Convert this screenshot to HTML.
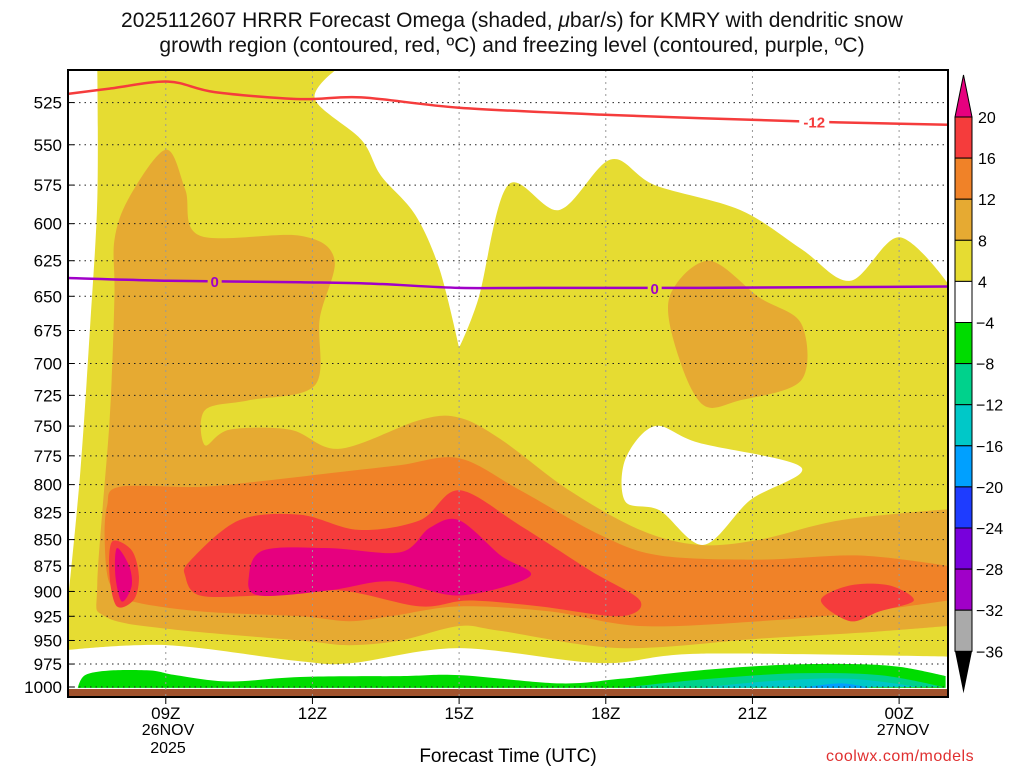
<!DOCTYPE html>
<html><head><meta charset="utf-8"><style>
body{margin:0;background:#fff;width:1024px;height:768px;overflow:hidden;font-family:"Liberation Sans",sans-serif}
svg text{font-family:"Liberation Sans",sans-serif}
</style></head><body>
<svg id="c" width="1024" height="768"></svg>
<script>
const hourTicks=[9,12,15,18,21,24];
const hourLabels=["09Z","12Z","15Z","18Z","21Z","00Z"];
const presTicks=[525,550,575,600,625,650,675,700,725,750,775,800,825,850,875,900,925,950,975,1000];
const cbLabels=["20","16","12","8","4","\u22124","\u22128","\u221212","\u221216","\u221220","\u221224","\u221228","\u221232","\u221236"];
const cbColors=["#f53c3c","#f08228","#e6aa32","#e6dc32","#ffffff","#00dc00","#00d28c","#00c8c8","#00a0ff","#1e3cff","#7800dc","#a000c8","#aaaaaa"];
const yellowShade=[[7.6,506],[12.5,506],[12.05,523],[13.0,547],[13.4,569],[14.1,594],[14.6,631],[15.0,688],[15.4,651],[16.0,575],[17.05,591],[18.1,559],[19.0,575],[20.75,591],[22.0,617],[23.0,639],[24.0,609],[25,641],[25,967],[19.9,964],[17.9,974],[15.0,958],[12.8,974],[11.75,972],[9.05,955],[7,960],[7,909],[7.25,790],[7.45,673],[7.6,584]];
const whiteHole=[[18.4,778],[19.0,750],[19.9,764],[22.0,785],[20.95,814],[20.0,855],[19.1,823],[18.4,815]];
const goldShade=[[7.95,611],[8.25,583],[9.0,553],[9.4,578],[9.7,608],[11.75,608],[12.45,624],[12.15,666],[12.05,717],[10.7,729],[9.8,737],[9.8,766],[10.3,753],[11.55,753],[12.55,769],[14.2,745],[15.0,743],[15.85,761],[17.25,805],[18.7,841],[19.9,855],[21.15,850],[22.8,832],[25,822],[25,935],[23.2,942],[21.15,948],[18.3,958],[15.85,940],[15.0,935],[13.8,950],[12.75,955],[11.75,950],[9.05,938],[7.75,925],[7.6,892],[7.85,745],[7.95,651]];
const goldBlob=[[19.3,651],[20.1,625],[21.15,651],[22.0,670],[22.0,713],[20.75,729],[20.0,733],[19.5,696]];
const orangeShade=[[7.8,819],[8.05,802],[9.7,802],[11.15,796],[12.55,789],[13.8,783],[15.0,777],[16.25,805],[17.9,846],[19.1,865],[21.15,869],[23.2,865],[25,875],[25,909],[23.2,921],[21.15,930],[18.7,935],[16.85,920],[15.0,915],[13.6,925],[12.75,930],[11.75,925],[9.7,920],[8.25,909],[7.85,892],[7.75,851]];
const redMain=[[9.5,870],[10.5,832],[11.75,827],[12.95,841],[14.2,832],[15.0,805],[16.25,837],[17.7,880],[18.7,909],[18.3,925],[16.65,915],[15.2,909],[14.2,915],[12.55,899],[10.9,904],[9.7,904],[9.4,885]];
const redLeft=[[7.9,852],[8.3,860],[8.45,885],[8.35,908],[8.0,915],[7.85,885]];
const redRight=[[22.4,909],[23.0,894],[23.8,894],[24.3,909],[23.6,920],[23.0,930]];
const magMain=[[10.7,885],[11.0,860],[12.35,858],[13.8,862],[14.4,839],[15.0,832],[15.85,865],[16.45,885],[15.0,904],[13.6,890],[12.35,899],[10.9,904]];
const magLeft=[[8.0,858],[8.25,875],[8.3,895],[8.1,910],[7.97,885]];
const greenShade=[[7.2,1001],[7.35,987],[7.85,982],[8.7,982],[9.2,987],[10.3,994],[11.75,989],[13.8,988],[15.0,987],[17.05,996],[18.3,991],[19.9,982],[21.55,976],[23.0,975],[24.0,978],[24.95,988],[24.95,1001]];
const tealShade=[[18.3,1001],[19.9,992],[21.9,985],[23.6,987],[24.9,1000]];
const cyanShade=[[19.9,1001],[21.5,993],[23.0,991],[24.4,1000]];
const blueShade=[[22.0,1001],[22.8,996],[23.4,1001]];
const dgzLine=[[7,520],[7.85,517],[9.05,513],[10.0,519],[11.75,523],[13.0,522],[15.0,528],[17.9,532],[22.0,536],[25,538]];
const frzLine=[[7,637],[9.05,639],[11.75,640],[13.2,641],[15.0,644],[16.6,644],[19.9,644],[25,643]];

const X0=68,X1=948,YB=687;
const xs=h=>X0+(h-7)*(X1-X0)/18;
const ys=p=>YB-Math.log(1000/p)*907;
const svg=document.getElementById('c');
const NS='http://www.w3.org/2000/svg';
function mk(tag,at,txt,parent){const e=document.createElementNS(NS,tag);for(const k in at)e.setAttribute(k,at[k]);if(txt!==undefined)e.textContent=txt;(parent||svg).appendChild(e);return e;}
const edge=p=>p[0]<=7||p[0]>=24.9||p[1]<=506||p[1]>=1000||(p[0]==15&&p[1]==688);
function smooth(pts,closed){const P=pts.map(p=>[xs(p[0]),ys(p[1])]);const n=P.length;
const tan=i=>{if(closed&&edge(pts[i]))return[0,0];const a=P[closed?(i-1+n)%n:Math.max(i-1,0)],b=P[closed?(i+1)%n:Math.min(i+1,n-1)];return[(b[0]-a[0])*0.16,(b[1]-a[1])*0.16];};
let d='M'+P[0][0].toFixed(1)+','+P[0][1].toFixed(1);
const last=closed?n:n-1;
for(let i=0;i<last;i++){const j=(i+1)%n,p1=P[i],p2=P[j],t1=tan(i),t2=tan(j);
d+=' C'+(p1[0]+t1[0]).toFixed(1)+','+(p1[1]+t1[1]).toFixed(1)+' '+(p2[0]-t2[0]).toFixed(1)+','+(p2[1]-t2[1]).toFixed(1)+' '+p2[0].toFixed(1)+','+p2[1].toFixed(1);}
return d+(closed?'Z':'');}
const gp=mk('g',{'clip-path':'url(#pc)'});
function poly(pts,fill,name){const e=mk('path',{d:smooth(pts,true),fill:fill},undefined,gp);

}
function line(pts,col,name){const e=mk('path',{d:smooth(pts,false),fill:'none',stroke:col,'stroke-width':2.5});

}

svg.insertBefore(mk('defs',{}),gp).innerHTML='<clipPath id="pc"><rect x="68" y="70" width="880" height="619"/></clipPath>';
poly(yellowShade,'#e6dc32','omega-4-8');
poly(whiteHole,'#ffffff','omega-calm-hole');
poly(goldShade,'#e6aa32','omega-8-12');
poly(goldBlob,'#e6aa32','omega-8-12-upper');
poly(orangeShade,'#f08228','omega-12-16');
poly(redMain,'#f53c3c','omega-16-20');
poly(redLeft,'#f53c3c','omega-16-20-left');
poly(redRight,'#f53c3c','omega-16-20-right');
poly(magMain,'#e6007f','omega-over-20');
poly(magLeft,'#e6007f','omega-over-20-left');
poly(greenShade,'#00dc00','omega-neg-4-8');
poly(tealShade,'#00d28c','omega-neg-8-12');
poly(cyanShade,'#00c8c8','omega-neg-12-16');
poly(blueShade,'#00a0ff','omega-neg-16-20');
let r=mk('rect',{x:68,y:689,width:880,height:8,fill:'#a0522d'});

presTicks.forEach(p=>{mk('line',{x1:68,x2:948,y1:ys(p),y2:ys(p),stroke:'#222','stroke-width':1,'stroke-dasharray':'1.5,4'});
const t=mk('text',{x:62,y:ys(p)+6,'text-anchor':'end','font-size':17},String(p));

mk('line',{x1:68,x2:74,y1:ys(p),y2:ys(p),stroke:'#000'});});
hourTicks.forEach((h,i)=>{mk('line',{x1:xs(h),x2:xs(h),y1:70,y2:697,stroke:'#999','stroke-width':1,'stroke-dasharray':'2,4'});
mk('line',{x1:xs(h),x2:xs(h),y1:697,y2:704,stroke:'#000'});
const t=mk('text',{x:xs(h),y:719,'text-anchor':'middle','font-size':17},hourLabels[i]);
});
line(dgzLine,'#f53c3c','dgz-minus12-contour');
line(frzLine,'#a000c8','freezing-level-contour');
function lab(h,p,txt,col,bg){mk('rect',{x:xs(h)-7,y:ys(p)-8,width:14+(txt.length-1)*8,height:16,fill:bg});
const t=mk('text',{x:xs(h)+(txt.length-1)*4,y:ys(p)+6,'text-anchor':'middle','font-size':15,'font-weight':'bold',fill:col},txt);
}
lab(22.1,536,'-12','#f53c3c','#fff');lab(10.0,639,'0','#a000c8','#e6aa32');lab(19.0,644,'0','#a000c8','#e6dc32');
mk('rect',{x:68,y:70,width:880,height:627,fill:'none',stroke:'#000','stroke-width':2});
const CX=955,CW=17,CT=117,CS=41.1;
mk('polygon',{points:`${CX},${CT} ${CX+CW},${CT} ${CX+CW/2},75`,fill:'#e6007f',stroke:'#000'});
cbColors.forEach((c,i)=>{const b=mk('rect',{x:CX,y:CT+i*CS,width:CW,height:CS,fill:c,stroke:'#000','stroke-width':1});
});
const yb=CT+cbColors.length*CS;
mk('polygon',{points:`${CX},${yb} ${CX+CW},${yb} ${CX+CW/2},${yb+42}`,fill:'#000'});
cbLabels.forEach((l,i)=>{const t=mk('text',{x:l[0]!='\u2212'?978:976,y:CT+i*CS+6,'font-size':16},l);
});
</script>
<div style="position:absolute;left:0;top:8px;width:1024px;text-align:center;font-size:21px;line-height:25px;color:#111">2025112607 HRRR Forecast Omega (shaded, <i>μ</i>bar/s) for KMRY with dendritic snow<br>growth region (contoured, red, ºC) and freezing level (contoured, purple, ºC)</div>
<div style="position:absolute;left:140px;top:722px;width:56px;text-align:center;font-size:16px;line-height:18px">26NOV<br>2025</div>
<div style="position:absolute;left:875px;top:722px;width:56px;text-align:center;font-size:16px;line-height:18px">27NOV</div>
<div style="position:absolute;left:0;top:746px;width:1016px;text-align:center;font-size:19px">Forecast Time (UTC)</div>
<div style="position:absolute;left:826px;top:748px;font-size:16px;color:#e03030;letter-spacing:0.5px">coolwx.com/models</div>
</body></html>
